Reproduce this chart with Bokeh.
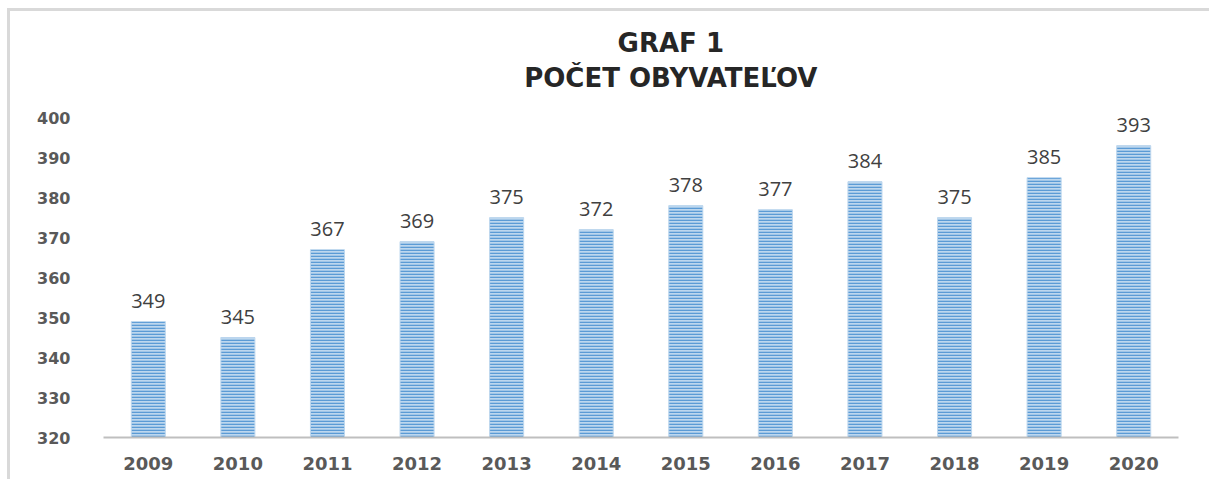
from bokeh.plotting import figure
from bokeh.models import FactorRange, Range1d, ColumnDataSource, LabelSet, FixedTicker
from bokeh.core.properties import value
from bokeh.embed import file_html
from bokeh.resources import INLINE

years = ["2009", "2010", "2011", "2012", "2013", "2014", "2015", "2016", "2017", "2018", "2019", "2020"]
population = [349, 345, 367, 369, 375, 372, 378, 377, 384, 375, 385, 393]
y_ticks = [320, 330, 340, 350, 360, 370, 380, 390, 400]
title_lines = ["GRAF 1", "POČET OBYVATEĽOV"]

src = ColumnDataSource(dict(x=years, top=population, lbl=[str(v) for v in population]))

# outer border drawn as CSS border on the figure's host element (shifts canvas by 10/11 px)
SHIFT_X, SHIFT_Y = 10, 11
# y range extended above 400 so the title area lies inside the frame (no grid / axis line there)
p = figure(width=1212 - SHIFT_X, height=482 - SHIFT_Y, output_backend="svg", toolbar_location=None,
           x_range=FactorRange(*years, range_padding=0), y_range=Range1d(320, 426.58),
           min_border_left=103 - SHIFT_X, min_border_right=34, min_border_top=0,
           min_border_bottom=45)
p.styles = {"border-left": "3px solid #d9d9d9", "border-top": "3px solid #d9d9d9",
            "margin-left": "7px", "margin-top": "8px"}
p.outline_line_color = None
p.background_fill_color = "white"
p.border_fill_color = "white"
p.xgrid.grid_line_color = None
p.ygrid.grid_line_color = None

p.vbar(x="x", top="top", bottom=320, width=0.38, source=src,
       fill_color="#bdd7ee", line_color="#bdd7ee", line_width=1,
       hatch_pattern="horizontal_line", hatch_color="#5b9bd5", hatch_scale=3, hatch_weight=1.6)

labels = LabelSet(x="x", y="top", text="lbl", source=src, text_align="center",
                  text_baseline="alphabetic", y_offset=14, text_font=value("Open Sans"),
                  text_font_size="20px", text_color="#404040")
p.add_layout(labels)

# axes
p.yaxis.ticker = FixedTicker(ticks=y_ticks)
p.yaxis.axis_line_color = None
p.yaxis.major_tick_line_color = None
p.yaxis.minor_tick_line_color = None
p.yaxis.major_label_standoff = 27
p.yaxis.major_label_text_font = "DejaVu Sans"
p.yaxis.major_label_text_font_style = "bold"
p.yaxis.major_label_text_font_size = "16px"
p.yaxis.major_label_text_color = "#595959"

p.xaxis.axis_line_color = "#bfbfbf"
p.xaxis.axis_line_width = 2
p.xaxis.major_tick_line_color = None
p.xaxis.minor_tick_line_color = None
p.xaxis.major_label_standoff = 13
p.xaxis.major_label_text_font = "DejaVu Sans"
p.xaxis.major_label_text_font_style = "bold"
p.xaxis.major_label_text_font_size = "18px"
p.xaxis.major_label_text_color = "#595959"

# title, two centred lines placed inside the (extended) frame
title_src = ColumnDataSource(dict(x=["2015", "2015"], y=[418.6, 410.0], t=title_lines))
p.add_layout(LabelSet(x="x", y="y", text="t", source=title_src, x_offset=-15,
                      text_align="center", text_baseline="middle",
                      text_font=value("DejaVu Sans"), text_font_style="bold",
                      text_font_size="26px", text_color="#262626"))

open("out.html", "w").write(file_html(p, INLINE))
